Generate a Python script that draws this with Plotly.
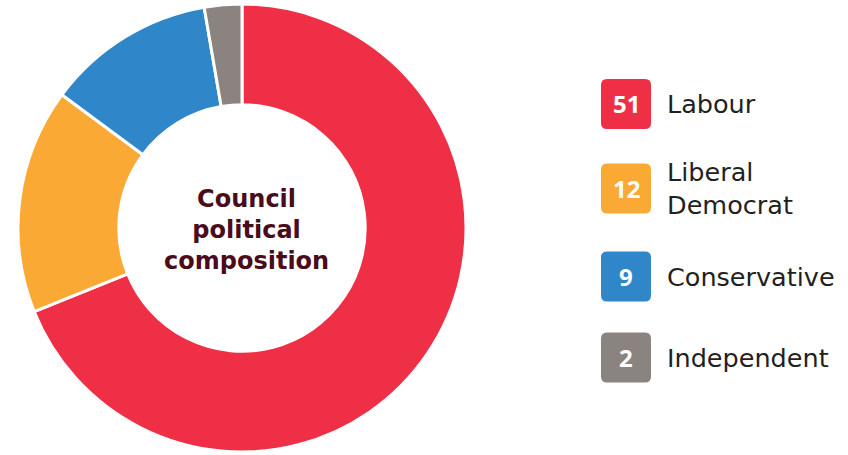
import plotly.graph_objects as go

parties = ["Labour", "Liberal<br>Democrat", "Conservative", "Independent"]
seats = [51, 12, 9, 2]
colors = ["#EF2F45", "#FAA934", "#2F86C9", "#8B8380"]

W, H = 848, 455
fig = go.Figure()

cx, cy, R = 242, 228, 224
fig.add_trace(go.Pie(
    values=seats, labels=[p.replace("<br>", " ") for p in parties],
    marker=dict(colors=colors, line=dict(color="white", width=3)),
    hole=0.55, sort=False, direction="clockwise", rotation=0,
    textinfo="none", hoverinfo="label+value", showlegend=False,
    domain=dict(x=[(cx - R) / W, (cx + R) / W], y=[(H - cy - R) / H, (H - cy + R) / H]),
))

fig.add_annotation(
    x=(cx + 4) / W, y=1 - 230 / H, xref="paper", yref="paper",
    xanchor="center", yanchor="middle",
    text="<b>Council<br>political<br>composition</b>", showarrow=False,
    font=dict(family="DejaVu Sans, sans-serif", size=24, color="#4A0B1A"),
    align="center",
)

def rrect(x0, y0, x1, y1, r):
    def px(x): return x / W
    def py(y): return 1 - y / H
    return (f"M {px(x0 + r)} {py(y0)} L {px(x1 - r)} {py(y0)} Q {px(x1)} {py(y0)} {px(x1)} {py(y0 + r)} "
            f"L {px(x1)} {py(y1 - r)} Q {px(x1)} {py(y1)} {px(x1 - r)} {py(y1)} "
            f"L {px(x0 + r)} {py(y1)} Q {px(x0)} {py(y1)} {px(x0)} {py(y1 - r)} "
            f"L {px(x0)} {py(y0 + r)} Q {px(x0)} {py(y0)} {px(x0 + r)} {py(y0)} Z")

box_centers = [104, 188.5, 276.5, 357.5]
bx0, bx1, half = 601, 651, 25
for name, n, col, yc in zip(parties, seats, colors, box_centers):
    fig.add_shape(type="path", xref="paper", yref="paper",
                  path=rrect(bx0, yc - half, bx1, yc + half, 6),
                  fillcolor=col, line=dict(width=0))
    fig.add_annotation(x=(bx0 + bx1) / 2 / W, y=1 - yc / H, xref="paper", yref="paper",
                       xanchor="center", yanchor="middle",
                       text=f"<b>{n}</b>", showarrow=False,
                       font=dict(family="Open Sans, sans-serif", size=24, color="white"))
    fig.add_annotation(x=665 / W, y=1 - yc / H, xref="paper", yref="paper",
                       xanchor="left", yanchor="middle",
                       text=name, showarrow=False, align="left",
                       font=dict(family="DejaVu Sans, sans-serif", size=25.5, color="#231F20"))

fig.update_layout(width=W, height=H, margin=dict(l=0, r=0, t=0, b=0),
                  paper_bgcolor="white", plot_bgcolor="white")
fig.write_html("out.html")
